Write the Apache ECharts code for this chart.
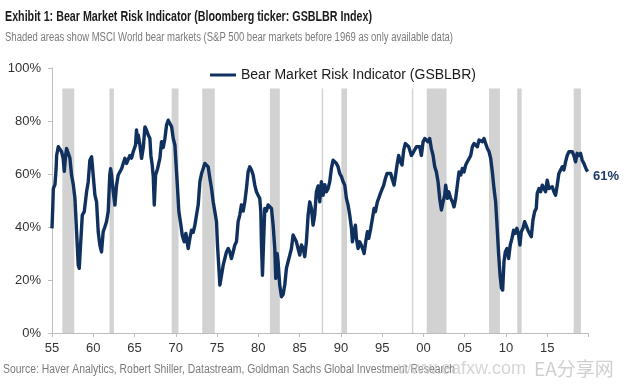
<!DOCTYPE html>
<html>
<head>
<meta charset="utf-8">
<script src="https://cdn.jsdelivr.net/npm/echarts@6/dist/echarts.min.js"></script>
<style>
html,body{margin:0;padding:0;background:#fff;}
#c{width:624px;height:388px;}
</style>
</head>
<body>
<div id="c"></div>
<script>
// ---- data ----
const titleText = 'Exhibit 1: Bear Market Risk Indicator (Bloomberg ticker: GSBLBR Index)';
const subtitleText = 'Shaded areas show MSCI World bear markets (S&P 500 bear markets before 1969 as only available data)';
const sourceText = 'Source: Haver Analytics, Robert Shiller, Datastream, Goldman Sachs Global Investment Research';
const seriesName = 'Bear Market Risk Indicator (GSBLBR)';
const xTicks = [1955, 1960, 1965, 1970, 1975, 1980, 1985, 1990, 1995, 2000, 2005, 2010, 2015];
const yTicks = [0, 20, 40, 60, 80, 100];

const years = [
1955.00,1955.10,1955.16,1955.36,1955.50,1955.56,1955.76,1955.96,1956.16,1956.35,1956.49,1956.65,1956.77,1956.97,
1957.17,1957.37,1957.58,1957.78,1957.98,1958.18,1958.30,1958.46,1958.67,1958.91,1959.19,1959.39,1959.59,1959.80,
1960.00,1960.20,1960.40,1960.60,1960.80,1961.00,1961.20,1961.40,1961.60,1961.81,1962.00,1962.10,1962.20,1962.42,
1962.62,1962.82,1963.02,1963.23,1963.43,1963.63,1963.83,1964.04,1964.24,1964.44,1964.64,1964.84,1965.00,1965.12,
1965.24,1965.35,1965.45,1965.65,1965.85,1966.06,1966.26,1966.46,1966.66,1966.86,1966.98,1967.14,1967.27,1967.39,
1967.55,1967.79,1968.07,1968.27,1968.48,1968.68,1968.88,1969.08,1969.28,1969.49,1969.69,1969.89,1970.09,1970.21,
1970.37,1970.62,1970.78,1971.02,1971.22,1971.50,1971.70,1971.91,1972.11,1972.31,1972.51,1972.71,1972.92,1973.12,
1973.32,1973.52,1973.72,1973.92,1974.13,1974.33,1974.53,1974.73,1974.93,1975.05,1975.22,1975.34,1975.54,1975.74,
1975.94,1976.14,1976.35,1976.54,1976.74,1976.95,1977.15,1977.35,1977.55,1977.75,1977.95,1978.16,1978.36,1978.56,
1978.76,1978.96,1979.17,1979.37,1979.57,1979.77,1979.97,1980.17,1980.30,1980.38,1980.50,1980.62,1980.78,1980.98,
1981.18,1981.38,1981.59,1981.79,1981.99,1982.11,1982.27,1982.39,1982.59,1982.80,1983.00,1983.20,1983.40,1983.60,
1983.81,1984.01,1984.21,1984.41,1984.61,1984.81,1985.02,1985.22,1985.42,1985.62,1985.82,1986.03,1986.23,1986.43,
1986.63,1986.83,1987.03,1987.24,1987.44,1987.64,1987.85,1988.05,1988.25,1988.45,1988.65,1988.85,1989.06,1989.26,
1989.46,1989.66,1989.86,1990.07,1990.27,1990.47,1990.67,1990.87,1991.07,1991.28,1991.40,1991.60,1991.76,1991.88,
1992.08,1992.28,1992.49,1992.69,1992.81,1993.01,1993.21,1993.37,1993.62,1993.82,1994.02,1994.18,1994.42,1994.58,
1994.79,1994.99,1995.19,1995.39,1995.59,1995.80,1996.04,1996.20,1996.44,1996.60,1996.80,1997.00,1997.21,1997.41,
1997.61,1997.81,1998.01,1998.22,1998.34,1998.54,1998.75,1998.95,1999.15,1999.35,1999.55,1999.75,1999.96,2000.16,
2000.36,2000.56,2000.76,2000.96,2001.17,2001.37,2001.57,2001.77,2001.97,2002.18,2002.38,2002.58,2002.70,2002.90,
2003.06,2003.31,2003.51,2003.71,2003.91,2004.11,2004.31,2004.52,2004.72,2004.92,2005.12,2005.32,2005.53,2005.73,
2005.93,2006.13,2006.33,2006.53,2006.74,2006.94,2007.14,2007.34,2007.54,2007.75,2007.95,2008.15,2008.35,2008.55,
2008.75,2008.96,2009.12,2009.28,2009.45,2009.60,2009.76,2009.92,2010.12,2010.32,2010.52,2010.73,2010.93,2011.13,
2011.33,2011.53,2011.69,2011.85,2012.06,2012.26,2012.46,2012.66,2012.86,2013.07,2013.27,2013.47,2013.67,2013.79,
2014.00,2014.20,2014.40,2014.60,2014.80,2015.00,2015.20,2015.41,2015.61,2015.81,2016.01,2016.21,2016.41,2016.62,
2016.82,2017.02,2017.22,2017.42,2017.63,2017.83,2018.03,2018.23,2018.43,2018.63,2018.84,2019.04,2019.24,2019.44,
2019.60,2019.77,2019.93
];
const values = [
39.5,48,54.5,56,62,67,70.3,70,68.4,66,61,67,69.6,69,
66,59.6,56,50.8,38.2,25.6,24.4,33.2,44.5,45.8,53.3,57.1,65.2,66.5,
65.9,52,49.5,38.2,33.2,30.6,38.2,40,42,45.8,59.6,62,60,53.3,
48.3,55.8,59.6,60,62,64,65.9,64,64.6,67,66,68.4,69,70.9,
76.6,72,74.7,70.9,65.9,70,77.8,76.5,74.7,73.4,67,63.4,59,48.3,
59.6,62,65.9,72.2,70,73.4,78.5,80.3,81,77.8,73.4,70.9,60.8,54.5,
45.8,40.7,36.9,34.4,37.6,31.9,35.7,38.8,38,40.7,44.5,48.3,57.1,60.2,
62.1,64,64.6,62.7,58.3,54.5,49.5,45.8,42,33.2,24.4,18.1,21.8,25.6,
28.1,30.6,31.9,30.6,28.1,30.6,33.2,34.4,42,44.5,48.3,46,49.5,54.5,
60.8,62.7,61.5,59.6,55.8,53.3,52,50.8,45.8,33.2,21.8,33,47,46,
48.3,48.9,47,40.7,31.9,20.6,30,26.9,18.1,13.7,14.5,18.1,24.4,26.9,
29.4,31.9,37,35.7,34.4,31.9,29.4,33.2,32,28.8,34.4,44.5,49.5,47,
40.7,44.5,53.3,55.5,49.5,57.1,52,56,53.3,54.5,57.1,62.1,65.2,64.6,
64,62.7,60.2,59,57.1,55.8,50.8,48.3,44.5,39.5,34.4,38.2,40.7,35.7,
31.9,34.4,33,31.3,30,34.4,38.2,35.7,39.5,43.2,47,45.8,49.5,50.8,
52.7,53.3,55.8,58.3,60.2,59.6,60.2,58.3,55.8,59,63.4,67,64.6,63.4,
69,71.5,72.2,70.3,69.6,67,68,67.8,70.3,69.6,70.3,67,72.2,73.4,
74,72.2,73.4,69.6,67,62.7,60.8,57.1,50.8,46.4,49.5,52,55.8,50.8,
53.3,50.8,49.5,47.6,50.8,55.8,60.8,59.6,62.1,60.8,63.4,64.6,64,67,
70.3,71.5,72.2,70.3,72.8,73.4,72.2,73.4,71.5,69.6,68.4,65.9,60.8,54.5,
49.5,38.2,29.4,22,17,16.2,26.9,30.6,31.9,28.1,33.2,35.7,38.8,37.6,
39.5,37,33.2,38.2,39.5,42,41.4,38.8,37.6,36.3,42.6,45.8,47,52.7,
54.5,53.3,55.8,55.2,53.3,57.7,54.5,53.9,55.2,53.3,52,55.8,60.2,60.8,
62.7,61.5,64.6,67,68.4,69,68.4,67,64.6,67.8,67,67.8,65.2,64,
63.4,61.5,61
];
// bear-market periods [start, end] in decimal years
const bearStarts = [1956.25, 1961.97, 1969.5, 1973.2, 1981.4, 1987.68, 1990.06, 1998.6, 2000.4, 2007.95, 2011.37, 2018.2];
const bearEnds   = [1957.7, 1962.5, 1970.33, 1974.72, 1982.6, 1987.85, 1990.75, 1998.77, 2002.8, 2009.27, 2011.9, 2019.08];
const bandTop = 92.3;

// ---- chart ----
const chart = echarts.init(document.getElementById('c'), null, {renderer: 'canvas'});
const lineData = years.map((y, i) => [y, values[i]]);
const bands = bearStarts.map((s, i) => [{xAxis: s, yAxis: 0}, {xAxis: bearEnds[i], yAxis: bandTop}]);

const measureCtx = document.createElement('canvas').getContext('2d');
function fitScale(text, font, target) {
  measureCtx.font = font;
  const w = measureCtx.measureText(text).width;
  return w > 0 ? target / w : 1;
}
const fontFam = '"Liberation Sans", Arial, sans-serif';
const titleFont = 'bold 14px ' + fontFam;
const subFont = '12.5px ' + fontFam;
const srcFont = '12px ' + fontFam;

chart.setOption({
  animation: false,
  backgroundColor: '#fff',
  textStyle: {fontFamily: fontFam},
  grid: {left: 52, right: 35.5, top: 68, bottom: 55, containLabel: false},
  legend: {
    show: true, left: 210, top: 68, padding: 0,
    icon: 'rect', itemWidth: 26, itemHeight: 3,
    textStyle: {fontSize: 14, color: '#1a1a1a', fontFamily: fontFam},
    data: [seriesName]
  },
  xAxis: {
    type: 'value', min: 1955, max: 2020, interval: 5,
    axisLine: {show: true, lineStyle: {color: '#bdbdbd', width: 1}},
    axisTick: {show: true, length: 4, lineStyle: {color: '#bdbdbd'}},
    splitLine: {show: false},
    axisLabel: {
      fontSize: 13, color: '#333', margin: 9,
      formatter: v => (xTicks.indexOf(v) >= 0 ? String(v).slice(2) : '')
    }
  },
  yAxis: {
    type: 'value', min: 0, max: 100, interval: 20,
    axisLine: {show: true, lineStyle: {color: '#bdbdbd', width: 1}},
    axisTick: {show: true, length: 4, lineStyle: {color: '#bdbdbd'}},
    splitLine: {show: false},
    axisLabel: {fontSize: 13, color: '#333', margin: 11, formatter: '{value}%'}
  },
  series: [{
    name: seriesName,
    type: 'line',
    data: lineData,
    showSymbol: false,
    symbol: 'none',
    lineStyle: {color: '#10305e', width: 3.4, join: 'round'},
    itemStyle: {color: '#10305e'},
    z: 5,
    endLabel: {
      show: true, distance: 5, offset: [0, 5],
      formatter: p => Math.round(p.value[1]) + '%',
      fontSize: 13, fontWeight: 'bold', color: '#1d3b66'
    },
    markArea: {
      silent: true,
      itemStyle: {color: '#d2d2d2'},
      data: bands
    }
  }],
  graphic: [
    {type: 'text', x: 5, y: 10, scaleX: fitScale(titleText, titleFont, 367), z: 10,
     style: {text: titleText, font: titleFont, fill: '#1a1a1a'}},
    {type: 'text', x: 5, y: 31, scaleX: fitScale(subtitleText, subFont, 448), z: 10,
     style: {text: subtitleText, font: subFont, fill: '#7a7a7a'}},
    {type: 'text', x: 3, y: 364, scaleX: fitScale(sourceText, srcFont, 452), z: 10,
     style: {text: sourceText, font: srcFont, fill: '#7a7a7a'}},
    {type: 'text', x: 398, y: 360, z: 11,
     style: {text: 'www.eafxw.com', font: '18px ' + fontFam, fill: 'rgba(200,200,200,0.75)'}},
    {type: 'text', x: 534, y: 359, z: 11,
     style: {text: 'EA分享网', font: '19px "Noto Sans CJK SC", sans-serif', fill: 'rgba(200,200,200,0.85)'}}
  ]
});
</script>
</body>
</html>
